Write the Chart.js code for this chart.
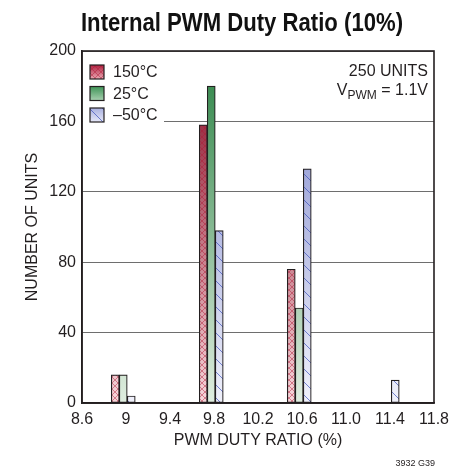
<!DOCTYPE html>
<html lang="en">
<head>
<meta charset="UTF-8">
<title>Internal PWM Duty Ratio (10%)</title>
<script src="https://cdn.jsdelivr.net/npm/chart.js@4.4.0/dist/chart.umd.min.js"></script>
<style>
  html, body { margin: 0; padding: 0; background: #fff; }
  #wrap { width: 469px; height: 473px; }
</style>
</head>
<body>
<div id="wrap"><canvas id="duty" width="469" height="473"></canvas></div>
<script>
// histogram bins (group centres) and unit counts per temperature
const binCenters = [8.975, 9.775, 10.575, 11.375];
const units150 = [16, 158, 76, null];
const units25 = [16, 180, 54, null];
const unitsMinus50 = [4, 98, 133, 13];
const seriesNames = ['150°C', '25°C', '–50°C'];
const xTickValues = [8.6, 9, 9.4, 9.8, 10.2, 10.6, 11.0, 11.4, 11.8];
const xTickLabels = ['8.6', '9', '9.4', '9.8', '10.2', '10.6', '11.0', '11.4', '11.8'];
const yTickValues = [0, 40, 80, 120, 160, 200];

const INK = '#231f20';
const FONT = '"Liberation Sans", Arial, sans-serif';

const looks = [
  { top: '#85061f', bottom: '#f7d6da', hatch: 'cross', line: 'rgba(175,25,55,0.6)', step: 6 },
  { top: '#2a8243', bottom: '#e0eee0', hatch: null },
  { top: '#7a84ca', bottom: '#f0f1fb', hatch: 'back', line: 'rgba(55,75,185,0.85)', step: 13 }
];

function paintLook(g, look, x, y, w, h, top, bottom) {
  const grad = g.createLinearGradient(0, y, 0, y + h);
  grad.addColorStop(0, top);
  grad.addColorStop(1, bottom);
  g.fillStyle = grad;
  g.fillRect(x, y, w, h);
  if (!look.hatch) return;
  g.save();
  g.beginPath();
  g.rect(x, y, w, h);
  g.clip();
  g.strokeStyle = look.line;
  g.lineWidth = 0.8;
  g.beginPath();
  for (let k = -h; k < w + h; k += look.step) {
    g.moveTo(x + k, y);
    g.lineTo(x + k + h, y + h);
    if (look.hatch === 'cross') {
      g.moveTo(x + k, y + h);
      g.lineTo(x + k + h, y);
    }
  }
  g.stroke();
  g.restore();
}

const fillCache = {};
function barFill(context) {
  const chart = context.chart;
  const area = chart.chartArea;
  const i = context.datasetIndex;
  if (!area) return looks[i].top;
  const key = i + ':' + area.top + ':' + area.bottom + ':' + chart.width;
  if (!fillCache[key]) {
    const off = document.createElement('canvas');
    off.width = chart.width;
    off.height = chart.height;
    paintLook(off.getContext('2d'), looks[i], 0, area.top, chart.width, area.bottom - area.top, looks[i].top, looks[i].bottom);
    fillCache[key] = chart.ctx.createPattern(off, 'no-repeat');
  }
  return fillCache[key];
}

const insetLegend = {
  id: 'insetLegend',
  afterDatasetsDraw(chart) {
    const { ctx, chartArea: a } = chart;
    ctx.save();
    ctx.fillStyle = '#fff';
    ctx.fillRect(a.left + 1, a.top + 1, 81, 73);
    const swatchTops = ['#b0203f', '#3f9457', '#a9b0df'];
    const swatchBottoms = ['#e9a9b3', '#a8d0b0', '#e6e8f8'];
    ctx.font = '16px ' + FONT;
    ctx.textBaseline = 'middle';
    ctx.textAlign = 'left';
    seriesNames.forEach((name, i) => {
      const cy = a.top + 21 + i * 21.5;
      paintLook(ctx, looks[i], a.left + 8, cy - 7, 14, 14, swatchTops[i], swatchBottoms[i]);
      ctx.strokeStyle = INK;
      ctx.lineWidth = 1.2;
      ctx.strokeRect(a.left + 8, cy - 7, 14, 14);
      ctx.fillStyle = INK;
      ctx.fillText(name, a.left + 31, cy + 1);
    });
    ctx.restore();
  },
  afterDraw(chart) {
    const { ctx, chartArea: a } = chart;
    ctx.save();
    ctx.strokeStyle = INK;
    ctx.lineWidth = 1.6;
    ctx.strokeRect(a.left, a.top, a.right - a.left, a.bottom - a.top);

    // condensed bold title
    ctx.fillStyle = '#111';
    ctx.textAlign = 'center';
    ctx.textBaseline = 'alphabetic';
    ctx.font = 'bold 25px ' + FONT;
    ctx.save();
    ctx.translate(242, 31);
    ctx.scale(0.885, 1);
    ctx.fillText('Internal PWM Duty Ratio (10%)', 0, 0);
    ctx.restore();

    ctx.fillStyle = INK;
    ctx.textAlign = 'right';
    ctx.font = '16px ' + FONT;
    const rx = a.right - 6;
    ctx.fillText('250 UNITS', rx, a.top + 25);
    // V_PWM = 1.1V
    const tail = ' = 1.1V';
    const tailW = ctx.measureText(tail).width;
    ctx.fillText(tail, rx, a.top + 44);
    ctx.font = '12px ' + FONT;
    const subW = ctx.measureText('PWM').width;
    ctx.fillText('PWM', rx - tailW, a.top + 48);
    ctx.font = '16px ' + FONT;
    ctx.fillText('V', rx - tailW - subW, a.top + 44);

    ctx.font = '9px ' + FONT;
    ctx.fillText('3932 G39', a.right + 1, 466);
    ctx.restore();
  }
};

new Chart(document.getElementById('duty'), {
  type: 'bar',
  data: {
    datasets: [units150, units25, unitsMinus50].map((vals, i) => ({
      label: seriesNames[i],
      data: binCenters.map((x, j) => ({ x: x, y: vals[j] })),
      backgroundColor: barFill,
      borderColor: INK,
      borderWidth: 1.2,
      borderSkipped: false,
      barThickness: 8
    }))
  },
  options: {
    responsive: false,
    animation: false,
    events: [],
    layout: { padding: { left: 0, right: 35, top: 51, bottom: 0 } },
    plugins: {
      legend: { display: false },
      tooltip: { enabled: false },
      title: { display: false }
    },
    scales: {
      x: {
        type: 'linear',
        min: 8.6,
        max: 11.8,
        offset: false,
        afterFit: s => { s.height = 70; },
        afterBuildTicks: s => { s.ticks = xTickValues.map(v => ({ value: v })); },
        grid: { display: false, drawTicks: false, offset: false },
        border: { display: true, color: INK, width: 1.6 },
        ticks: {
          color: INK,
          padding: 7,
          maxRotation: 0,
          autoSkip: false,
          font: { family: FONT, size: 16 },
          callback: (v, idx) => xTickLabels[idx]
        },
        title: {
          display: true,
          text: 'PWM DUTY RATIO (%)',
          color: INK,
          font: { family: FONT, size: 16 },
          padding: { bottom: 23 }
        }
      },
      y: {
        min: 0,
        max: 200,
        afterFit: s => { s.width = 82; },
        afterBuildTicks: s => { s.ticks = yTickValues.map(v => ({ value: v })); },
        grid: { color: '#6e6e6e', lineWidth: 1, drawTicks: false },
        border: { display: true, color: INK, width: 1.6 },
        ticks: {
          color: INK,
          padding: 6,
          font: { family: FONT, size: 16 }
        },
        title: {
          display: true,
          text: 'NUMBER OF UNITS',
          color: INK,
          font: { family: FONT, size: 16 },
          padding: { top: 23 }
        }
      }
    }
  },
  plugins: [insetLegend]
});
</script>
</body>
</html>
